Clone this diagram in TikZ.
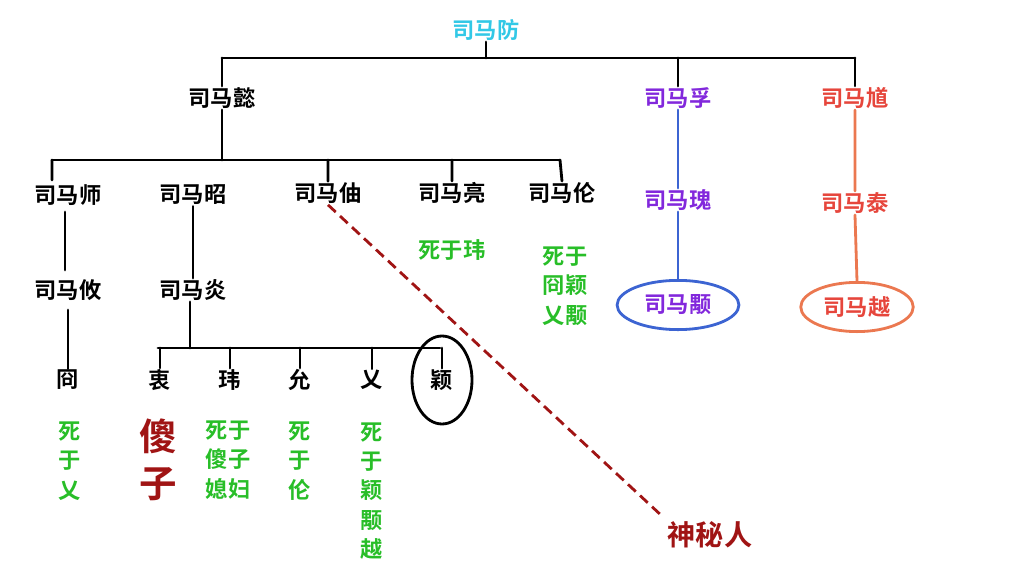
\documentclass[tikz,border=0pt]{standalone}
\usepackage{fontspec}
\setmainfont{Noto Sans CJK SC}[BoldFont={Noto Sans CJK SC Bold}]
\usetikzlibrary{positioning,shapes.geometric}
\definecolor{fangc}{RGB}{50,200,230}
\definecolor{fuc}{RGB}{130,40,220}
\definecolor{kuic}{RGB}{230,70,60}
\definecolor{deathc}{RGB}{40,190,40}
\definecolor{foolc}{RGB}{160,20,20}
\definecolor{bluec}{RGB}{60,100,210}
\definecolor{orangec}{RGB}{235,120,80}
\tikzset{
  person/.style={font=\fontsize{19}{21}\selectfont\bfseries, inner sep=1pt},
  death/.style={font=\fontsize{19}{25}\selectfont\bfseries, text=deathc, align=center, inner sep=1pt},
  tree/.style={line width=2.4pt},
}
\begin{document}
\begin{tikzpicture}[x=0.03cm, y=-0.03cm, line cap=round]
  \useasboundingbox (0,0) rectangle (1024,568);

  % top generation
  \node[person, text=fangc] (fang) at (486,30) {司马防};
  \node[person] (yi) at (222,98) {司马懿};
  \node[person, text=fuc] (fu) at (678,98) {司马孚};
  \node[person, text=kuic] (kui) at (855,98) {司马馗};
  \draw[tree] (fang.south) -- (486,58) (222,58) -- (855,58);
  \draw[tree] (222,58) -- (yi.north) (678,58) -- (fu.north) (855,58) -- (kui.north);

  % sons of yi
  \node[person] (shi) at (68,195) {司马师};
  \node[person] (zhao) at (193,195) {司马昭};
  \node[person] (zhou) at (328,193) {司马伷};
  \node[person] (liang) at (452,193) {司马亮};
  \node[person] (lun) at (562,193) {司马伦};
  \draw[tree] (yi.south) -- (222,160) (52,160) -- (560,160);
  \draw[tree] (52,160) -- (52,180) (328,160) -- (zhou.north)
    (452,160) -- (liang.north) (560,160) -- (lun.north);

  \node[person] (you) at (68,290) {司马攸};
  \node[person] (yan) at (193,290) {司马炎};
  \node[person] (jiong) at (68,380) {冏};
  \draw[tree] (65,212) -- (65,270) (68,310) -- (jiong.north);
  \draw[tree] (zhao.south) -- (yan.north);

  % sons of yan
  \foreach \n/\x/\t in {zhong/160/衷, wei/230/玮, yun/300/允, ai/372/乂, ying/442/颖}
    \node[person] (\n) at (\x,380) {\t};
  \coordinate (fork) at (190,348);
  \draw[tree] (yan.south -| fork) -- (fork) (158,348) -- (440,348);
  \foreach \n in {zhong, wei, yun, ai, ying}
    \draw[tree] (\n.north |- fork) -- (\n.north);
  \draw[line width=2.4pt] (ying) ellipse[x radius=30, y radius=44];

  % fates
  \node[death] (d1) at (70,461) {死\\于\\乂};
  \node[font=\fontsize{32}{40}\selectfont\bfseries, text=foolc, align=center] (fool) at (158,460) {傻\\子};
  \node[death] (d2) at (228,460) {死于\\傻子\\媳妇};
  \node[death] (d3) at (300,461) {死\\于\\伦};
  \node[death] (d4) at (372,491) {死\\于\\颖\\颙\\越};
  \node[death] (d5) at (452,250) {死于玮};
  \node[death] (d6) at (565,286) {死于\\冏颖\\乂颙};

  % fu and kui lines
  \node[person, text=fuc] (gui) at (678,200) {司马瑰};
  \node[person, text=fuc, draw=bluec, line width=2.4pt, ellipse, inner sep=0pt,
    minimum width=104, minimum height=42] (yong) at (678,305) {司马颙};
  \node[person, text=kuic] (tai) at (855,203) {司马泰};
  \node[person, text=kuic, draw=orangec, line width=2.4pt, ellipse, inner sep=0pt,
    minimum width=96, minimum height=42] (yue) at (857,307) {司马越};
  \draw[tree, bluec] (fu.south) -- (gui.north) (gui.south) -- (yong.north);
  \draw[tree, orangec] (kui.south) -- (tai.north) (tai.south) -- (yue.north);

  % mystery
  \node[font=\fontsize{24}{26}\selectfont\bfseries, text=foolc] (myst) at (710,535) {神秘人};
  \draw[line width=2.4pt, foolc, dashed, dash pattern=on 9pt off 5pt, line cap=butt]
    (zhou.south) -- (myst.north west);
\end{tikzpicture}
\end{document}
